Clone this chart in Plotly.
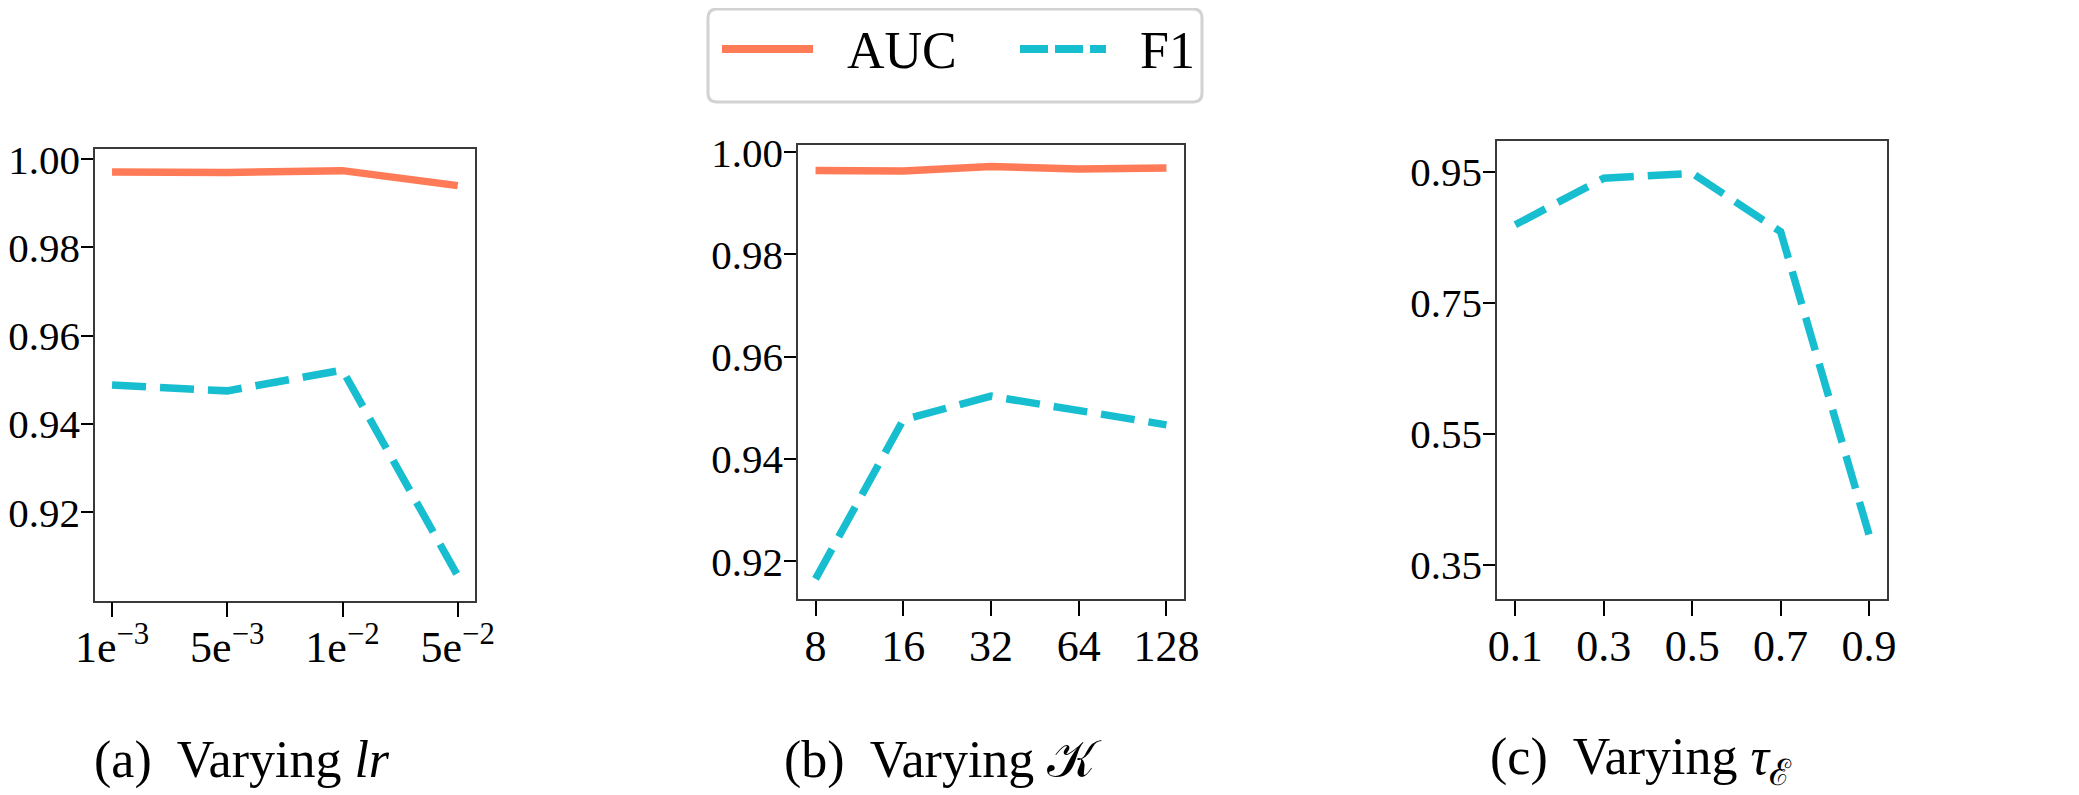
import plotly.graph_objects as go

# ---------------- data ----------------
lr_labels = ["1e<sup>−3</sup>", "5e<sup>−3</sup>", "1e<sup>−2</sup>", "5e<sup>−2</sup>"]
lr_auc = [0.9971, 0.9970, 0.9974, 0.9940]
lr_f1 = [0.9488, 0.9475, 0.9522, 0.9056]

k_labels = ["8", "16", "32", "64", "128"]
k_auc = [0.9964, 0.9963, 0.9972, 0.9967, 0.9969]
k_f1 = [0.9166, 0.9477, 0.9523, 0.9496, 0.9467]

tau_labels = ["0.1", "0.3", "0.5", "0.7", "0.9"]
tau_f1 = [0.869, 0.940, 0.9475, 0.8585, 0.396]

a_yticks = [0.92, 0.94, 0.96, 0.98, 1.00]
b_yticks = [0.92, 0.94, 0.96, 0.98, 1.00]
c_yticks = [0.35, 0.55, 0.75, 0.95]

captions = ["(a)  Varying <i>lr</i>", "(b)  Varying 𝒦", "(c)  Varying <i>τ</i><sub>ℰ</sub>"]
series_names = ["AUC", "F1"]

# ---------------- style ----------------
W, H = 2079, 795
OFF = 8  # page body margin
AUC_COLOR = "#FF7A57"
F1_COLOR = "#17BECF"
FONT = "Liberation Serif"
LW = 7.5
DASH = "34px,14px"


def fx(x):
    return (x - OFF) / W


def fy(y):
    return 1 - (y - OFF) / H


fig = go.Figure()

panels = [
    dict(x="x", y="y", cats=lr_labels, auc=lr_auc, f1=lr_f1, yt=a_yticks,
         px=(95, 475), py=(149, 600.5), xr=[-0.148, 3.15], yr=[0.900, 1.0023]),
    dict(x="x2", y="y2", cats=k_labels, auc=k_auc, f1=k_f1, yt=b_yticks,
         px=(798, 1184), py=(145, 599.3), xr=[-0.2, 4.2], yr=[0.9126, 1.0014]),
    dict(x="x3", y="y3", cats=tau_labels, auc=None, f1=tau_f1, yt=c_yticks,
         px=(1497, 1887), py=(141, 599), xr=[-0.207, 4.203], yr=[0.298, 0.9968]),
]

for i, p in enumerate(panels):
    if p["auc"] is not None:
        fig.add_trace(go.Scatter(x=p["cats"], y=p["auc"], mode="lines", name=series_names[0],
                                 line=dict(color=AUC_COLOR, width=LW), xaxis=p["x"], yaxis=p["y"],
                                 showlegend=False))
    fig.add_trace(go.Scatter(x=p["cats"], y=p["f1"], mode="lines", name=series_names[1],
                             line=dict(color=F1_COLOR, width=LW, dash=DASH), xaxis=p["x"], yaxis=p["y"],
                             showlegend=False))
    sfx = "" if i == 0 else str(i + 1)
    fig.layout["xaxis" + sfx] = dict(
        type="category", domain=[fx(p["px"][0]), fx(p["px"][1])], range=p["xr"],
        anchor=p["y"], showgrid=False, zeroline=False, showline=True, mirror=True,
        linecolor="#3a3a3a", linewidth=1.5, ticks="outside", ticklen=15, tickwidth=2,
        tickcolor="black", tickfont=dict(family=FONT, size=44, color="black"),
        tickmode="array", tickvals=p["cats"], ticktext=p["cats"], fixedrange=True,
        automargin=False, ticklabelstandoff=-8,
    )
    fig.layout["yaxis" + sfx] = dict(
        domain=[fy(p["py"][1]), fy(p["py"][0])], range=p["yr"], anchor=p["x"],
        showgrid=False, zeroline=False, showline=True, mirror=True,
        linecolor="#3a3a3a", linewidth=1.5, ticks="outside", ticklen=12, tickwidth=2,
        tickcolor="black", tickfont=dict(family=FONT, size=41, color="black"),
        tickmode="array", tickvals=p["yt"], ticktext=["%.2f" % v for v in p["yt"]],
        fixedrange=True, automargin=False, ticklabelstandoff=-7,
    )

# captions
cap_x = [242, 943, 1641]
annotations = []
for cx, txt in zip(cap_x, captions):
    annotations.append(dict(x=fx(cx), y=fy(760), xref="paper", yref="paper", text=txt,
                            showarrow=False, xanchor="center", yanchor="middle",
                            font=dict(family=FONT, size=52, color="black")))

# manual legend
lx0, lx1, ly0, ly1, r = 708, 1202, 9, 102, 9
path = (f"M {fx(lx0 + r)},{fy(ly0)} L {fx(lx1 - r)},{fy(ly0)} Q {fx(lx1)},{fy(ly0)} {fx(lx1)},{fy(ly0 + r)} "
        f"L {fx(lx1)},{fy(ly1 - r)} Q {fx(lx1)},{fy(ly1)} {fx(lx1 - r)},{fy(ly1)} "
        f"L {fx(lx0 + r)},{fy(ly1)} Q {fx(lx0)},{fy(ly1)} {fx(lx0)},{fy(ly1 - r)} "
        f"L {fx(lx0)},{fy(ly0 + r)} Q {fx(lx0)},{fy(ly0)} {fx(lx0 + r)},{fy(ly0)} Z")
shapes = [
    dict(type="path", path=path, xref="paper", yref="paper",
         line=dict(color="#d2d2d2", width=3), fillcolor="white", layer="below"),
    dict(type="line", xref="paper", yref="paper", x0=fx(722), x1=fx(813), y0=fy(49), y1=fy(49),
         line=dict(color=AUC_COLOR, width=8)),
    dict(type="line", xref="paper", yref="paper", x0=fx(1020), x1=fx(1106), y0=fy(49), y1=fy(49),
         line=dict(color=F1_COLOR, width=8, dash="28px,7px")),
]
annotations.append(dict(x=fx(845), y=fy(51), xref="paper", yref="paper", text=series_names[0],
                        showarrow=False, xanchor="left", yanchor="middle",
                        font=dict(family=FONT, size=52, color="black")))
annotations.append(dict(x=fx(1138), y=fy(51), xref="paper", yref="paper", text=series_names[1],
                        showarrow=False, xanchor="left", yanchor="middle",
                        font=dict(family=FONT, size=52, color="black")))

fig.update_layout(
    width=W, height=H, margin=dict(l=0, r=0, t=0, b=0, pad=0),
    paper_bgcolor="white", plot_bgcolor="white",
    showlegend=False, annotations=annotations, shapes=shapes,
    font=dict(family=FONT, color="black"),
)

fig.write_html("out.html", config={"displayModeBar": False})
